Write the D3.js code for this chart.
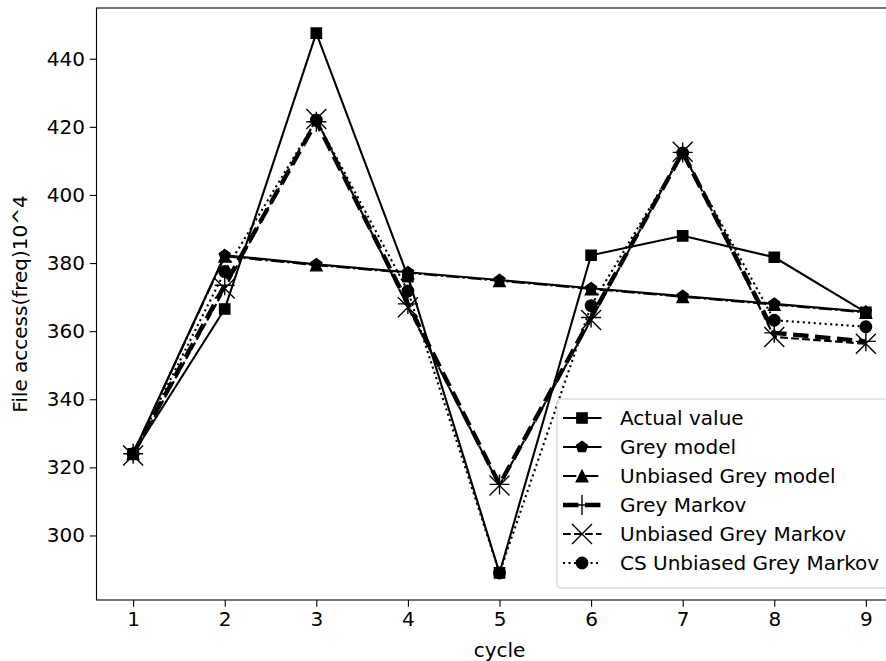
<!DOCTYPE html>
<html>
<head>
<meta charset="utf-8">
<script src="https://cdn.jsdelivr.net/npm/d3@7"></script>
<style>
  body { margin: 0; background: #fff; }
  text { font-family: "DejaVu Sans", sans-serif; }
</style>
</head>
<body>
<div id="chart"></div>
<script>
// data
const cycles = [1, 2, 3, 4, 5, 6, 7, 8, 9];
const actualValue = [324, 366.5, 447.5, 376, 289, 382.3, 388, 381.7, 365.5];
const greyModel = [324, 382.3, 379.6, 377.3, 375, 372.6, 370.3, 368, 365.7];
const unbiasedGreyModel = [324, 382, 379.4, 377.1, 374.8, 372.4, 370.1, 367.8, 365.5];
const greyMarkov = [324, 373.5, 421.5, 368, 315, 364, 412.5, 359.5, 357];
const unbiasedGreyMarkov = [323.5, 372.5, 422.3, 367, 314.7, 363.3, 412.7, 358.3, 356.3];
const csUnbiasedGreyMarkov = [324, 377.5, 422, 371.8, 289, 367.5, 412.3, 363.2, 361.3];
const xTicks = [1, 2, 3, 4, 5, 6, 7, 8, 9];
const yTicks = [300, 320, 340, 360, 380, 400, 420, 440];

const W = 886, H = 661;
const plotL = 96.5, plotR = 902.5, plotT = 8, plotB = 600;
const fs = 20;

const svg = d3.select("#chart").append("svg").attr("width", W).attr("height", H);

const x = d3.scaleLinear().domain([0.6, 9.4]).range([plotL, plotR]);
const y = d3.scaleLinear().domain([281.05, 454.9]).range([plotB, plotT]);

// series styles (matplotlib-like)
const series = [
  { name: "Actual value", values: actualValue, marker: "square", dash: null, lw: 2.1 },
  { name: "Grey model", values: greyModel, marker: "pentagon", dash: null, lw: 2.1 },
  { name: "Unbiased Grey model", values: unbiasedGreyModel, marker: "triangle", dash: "13.3,3.3,2.1,3.3", lw: 2.1 },
  { name: "Grey Markov", values: greyMarkov, marker: "plus", dash: "15.4,6.6", lw: 4.4 },
  { name: "Unbiased Grey Markov", values: unbiasedGreyMarkov, marker: "cross", dash: "7.7,3.3", lw: 2.1 },
  { name: "CS Unbiased Grey Markov", values: csUnbiasedGreyMarkov, marker: "circle", dash: "2.1,3.4", lw: 2.1 }
];

function markerPath(type) {
  const ms = 11.5;
  if (type === "square") return d3.symbol(d3.symbolSquare, ms * ms * 0.8)();
  if (type === "circle") return d3.symbol(d3.symbolCircle, Math.PI * (ms / 2) * (ms / 2))();
  if (type === "triangle") {
    const r = ms / 2;
    return `M0,${-r}L${-r},${r}L${r},${r}Z`;
  }
  if (type === "pentagon") {
    const r = ms / 2;
    const pts = d3.range(5).map(i => {
      const a = -Math.PI / 2 + i * 2 * Math.PI / 5;
      return [r * Math.cos(a), r * Math.sin(a)];
    });
    return "M" + pts.map(p => p.join(",")).join("L") + "Z";
  }
  const h = 10;
  if (type === "plus") return `M${-h},0L${h},0M0,${-h}L0,${h}`;
  if (type === "cross") return `M${-h},${-h}L${h},${h}M${-h},${h}L${h},${-h}`;
}

function drawMarker(g, type, cx, cy) {
  const open = type === "plus" || type === "cross";
  g.append("path")
    .attr("d", markerPath(type))
    .attr("transform", `translate(${cx},${cy})`)
    .attr("fill", open ? "none" : "#000")
    .attr("stroke", "#000")
    .attr("stroke-width", 1.4);
}

const plot = svg.append("g");
const line = d3.line().x((d, i) => x(cycles[i])).y(d => y(d));

series.forEach(s => {
  plot.append("path")
    .datum(s.values)
    .attr("d", line)
    .attr("fill", "none")
    .attr("stroke", "#000")
    .attr("stroke-width", s.lw)
    .attr("stroke-linejoin", "round")
    .attr("stroke-dasharray", s.dash);
  s.values.forEach((v, i) => drawMarker(plot, s.marker, x(cycles[i]), y(v)));
});

// axes
const xAxis = svg.append("g").attr("transform", `translate(0,${plotB})`)
  .call(d3.axisBottom(x).tickValues(xTicks).tickSize(6.7).tickPadding(4.8).tickFormat(d3.format("d")));
const yAxis = svg.append("g").attr("transform", `translate(${plotL},0)`)
  .call(d3.axisLeft(y).tickValues(yTicks).tickSize(6.7).tickPadding(4.8).tickFormat(d3.format("d")));
[xAxis, yAxis].forEach(a => {
  a.select(".domain").remove();
  a.selectAll("line").attr("stroke", "#000").attr("stroke-width", 1.1);
  a.selectAll("text").attr("font-size", fs).attr("fill", "#000").style("font-family", "DejaVu Sans");
});

// spines
svg.append("rect")
  .attr("x", plotL).attr("y", plotT)
  .attr("width", plotR - plotL).attr("height", plotB - plotT)
  .attr("fill", "none").attr("stroke", "#000").attr("stroke-width", 1.1);

// axis labels
svg.append("text").attr("x", (plotL + plotR) / 2).attr("y", 657)
  .attr("text-anchor", "middle").attr("font-size", fs).text("cycle");
svg.append("text")
  .attr("transform", `translate(27,${(plotT + plotB) / 2}) rotate(-90)`)
  .attr("text-anchor", "middle").attr("font-size", fs).text("File access(freq)10^4");

// legend
const lg = svg.append("g");
lg.append("rect")
  .attr("x", 557).attr("y", 399).attr("width", 337).attr("height", 189)
  .attr("rx", 4).attr("fill", "#fff").attr("fill-opacity", 0.8)
  .attr("stroke", "#ccc").attr("stroke-width", 1.1);
series.forEach((s, i) => {
  const cy = 418 + i * 29;
  lg.append("line")
    .attr("x1", 563).attr("x2", 601.5).attr("y1", cy).attr("y2", cy)
    .attr("stroke", "#000").attr("stroke-width", s.lw)
    .attr("stroke-dasharray", s.dash);
  drawMarker(lg, s.marker, 582, cy);
  lg.append("text").attr("x", 620).attr("y", cy).attr("dy", "0.36em")
    .attr("font-size", fs).text(s.name);
});
</script>
</body>
</html>
